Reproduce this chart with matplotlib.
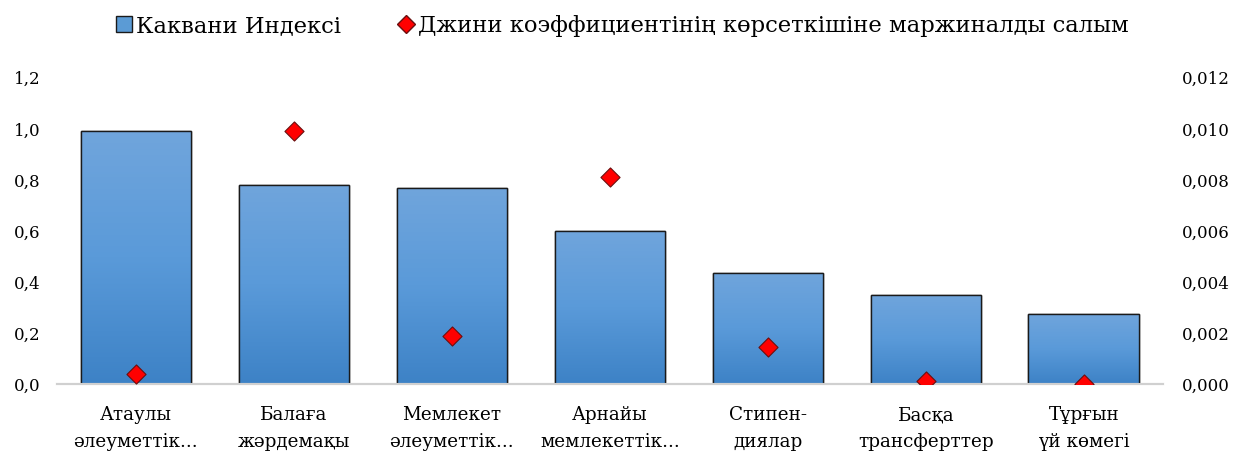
import numpy as np
import matplotlib.pyplot as plt
from matplotlib.lines import Line2D
from matplotlib.patches import Patch
from matplotlib.ticker import FuncFormatter
from matplotlib.colors import LinearSegmentedColormap

plt.rcParams['font.family'] = ['DejaVu Serif']

categories = ['Атаулы\nәлеуметтік...', 'Балаға\nжәрдемақы', 'Мемлекет\nәлеуметтік...',
              'Арнайы\nмемлекеттік...', 'Стипен-\nдиялар', 'Басқа\nтрансферттер', 'Тұрғын\nүй көмегі']
kakwani = [0.99, 0.78, 0.77, 0.60, 0.435, 0.35, 0.275]
gini_contrib = [0.0004, 0.0099, 0.0019, 0.0081, 0.00145, 0.0001, 0.00002]

fig = plt.figure(figsize=(12.37, 4.55), dpi=100)
ax = fig.add_axes([0.046, 0.156, 0.894, 0.673])
ax2 = ax.twinx()

x = np.arange(len(categories))
bars = ax.bar(x, kakwani, width=0.7, color='#5b9bd5', edgecolor='#1a1a1a', linewidth=1.0, zorder=2)

# vertical gradient inside bars
grad = np.linspace(0, 1, 256).reshape(-1, 1)
cmap = LinearSegmentedColormap.from_list('g', ['#3d82c6', '#5a9ad9', '#70a5dc'])
for b in bars:
    bx, by = b.get_x(), b.get_y()
    w, h = b.get_width(), b.get_height()
    im = ax.imshow(grad, cmap=cmap, extent=[bx, bx + w, by, by + h], origin='lower',
                   aspect='auto', zorder=2.5)
    im.set_clip_path(b)
    ax.add_patch(plt.Rectangle((bx, by), w, h, fill=False, edgecolor='#1a1a1a', linewidth=1.0, zorder=3))

ax2.scatter(x, gini_contrib, marker='D', s=95, color='#ff0000', edgecolor='#6a1010', linewidth=0.8, zorder=5)

ax.set_xlim(-0.5, len(categories) - 0.5)
ax.set_ylim(0, 1.2)
ax2.set_ylim(0, 0.012)
ax.set_yticks(np.arange(0, 1.21, 0.2))
ax2.set_yticks(np.arange(0, 0.0121, 0.002))
ax.yaxis.set_major_formatter(FuncFormatter(lambda v, p: f'{v:.1f}'.replace('.', ',')))
ax2.yaxis.set_major_formatter(FuncFormatter(lambda v, p: f'{v:.3f}'.replace('.', ',')))

ax.set_xticks(x)
ax.set_xticklabels(categories, fontsize=13.2, linespacing=1.6)
ax.tick_params(axis='x', length=0, pad=16)
ax.tick_params(axis='y', length=0, labelsize=12, pad=12)
ax2.tick_params(axis='y', length=0, labelsize=12, pad=14)

for a in (ax, ax2):
    for s in ['top', 'right', 'left']:
        a.spines[s].set_visible(False)
    a.spines['bottom'].set_color('#d0d0d0')
    a.spines['bottom'].set_linewidth(1.5)
ax2.set_zorder(ax.get_zorder() + 1)
ax2.patch.set_visible(False)

handles = [Patch(facecolor='#5b9bd5', edgecolor='#1a1a1a', label='Каквани Индексі'),
           Line2D([], [], marker='D', linestyle='none', markersize=9, markerfacecolor='#ff0000',
                  markeredgecolor='#6a1010', label='Джини коэффициентінің көрсеткішіне маржиналды салым')]
fig.legend(handles=handles, loc='upper center', bbox_to_anchor=(0.503, 1.012), ncol=2, frameon=False,
           fontsize=16.3, handlelength=0.7, handleheight=0.7, handletextpad=0.2, columnspacing=2.5)

fig.savefig('out.png', dpi=100)
